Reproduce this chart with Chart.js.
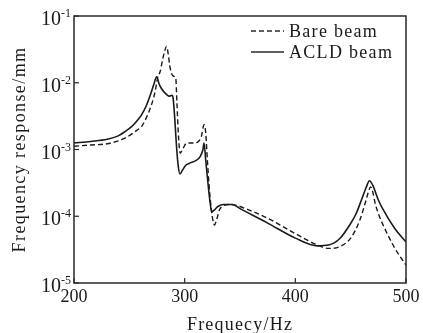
<!DOCTYPE html>
<html>
<head>
<meta charset="utf-8">
<script src="https://cdn.jsdelivr.net/npm/chart.js@4/dist/chart.umd.min.js"></script>
<style>
    body { margin: 0; background: #fff; }
    canvas { display: block; }
</style>
</head>
<body>
<canvas id="frfChart" width="423" height="333"></canvas>
<script>
// Datos
const xTicks = [200, 300, 400, 500];
const yTickExps = [-1, -2, -3, -4, -5];

const bareFreq = [200, 215, 230, 240, 246, 252, 257, 261, 265, 269, 272, 274, 275.6, 278, 280, 282, 283.5, 285, 286.5, 288,
    290, 292, 293, 294.5, 296, 298, 302, 308, 312, 315, 317.5, 319, 320.5, 322, 324, 326, 327, 329, 331.5, 335,
    340, 345, 350, 375, 400, 420, 430, 440, 450, 458, 463, 466, 468, 470, 472, 475, 480, 490, 500];
const bareResp = [1.12e-3, 1.17e-3, 1.22e-3, 1.35e-3, 1.48e-3, 1.7e-3, 1.95e-3, 2.2e-3, 2.9e-3, 4.2e-3, 6e-3, 8.5e-3, 1.2e-2, 1.5e-2, 2.2e-2, 3.0e-2, 3.5e-2, 2.8e-2, 1.8e-2, 1.4e-2,
    1.25e-2, 1.15e-2, 5e-3, 1.5e-3, 8.8e-4, 1.0e-3, 1.25e-3, 1.25e-3, 1.3e-3, 1.55e-3, 2.35e-3, 1.8e-3, 7e-4, 3e-4, 1.3e-4, 8e-5, 7.4e-5, 9e-5, 1.25e-4, 1.45e-4,
    1.5e-4, 1.48e-4, 1.4e-4, 9.3e-5, 5.5e-5, 3.7e-5, 3.3e-5, 3.5e-5, 4.7e-5, 8.5e-5, 1.55e-4, 2.3e-4, 2.75e-4, 2.3e-4, 1.6e-4, 1.1e-4, 7e-5, 3.3e-5, 1.85e-5];

const acldFreq = [200, 215, 230, 240, 246, 252, 257, 261, 265, 269, 272, 274.7, 277, 279, 281, 284, 286, 288.6, 289.5, 291,
    292.5, 294, 295.8, 298, 301, 305, 310, 314, 316.5, 317.5, 319, 321, 323, 324.4, 327, 330, 335, 343, 350, 375,
    400, 420, 430, 440, 450, 455, 460, 464, 467, 470, 475, 480, 490, 500];
const acldResp = [1.25e-3, 1.32e-3, 1.42e-3, 1.6e-3, 1.85e-3, 2.2e-3, 2.7e-3, 3.3e-3, 4.4e-3, 6.6e-3, 9.3e-3, 1.23e-2, 9.5e-3, 8.2e-3, 7.4e-3, 6.6e-3, 6.3e-3, 6.5e-3, 6.0e-3, 3.0e-3,
    1.2e-3, 6e-4, 4.3e-4, 4.9e-4, 5.8e-4, 6.3e-4, 6.8e-4, 7.8e-4, 1.0e-3, 1.25e-3, 7e-4, 3.2e-4, 1.6e-4, 1.17e-4, 1.25e-4, 1.4e-4, 1.5e-4, 1.5e-4, 1.3e-4, 7.9e-5,
    4.7e-5, 3.6e-5, 3.7e-5, 4.6e-5, 7.8e-5, 1.1e-4, 1.8e-4, 2.7e-4, 3.4e-4, 2.9e-4, 1.75e-4, 1.2e-4, 6.5e-5, 4.1e-5];

const seriesNames = ['Bare beam', 'ACLD beam'];
const xTitle = 'Frequecy/Hz';
const yTitle = 'Frequency response/mm';

const ink = '#1a1a1a';
const serif = '"Liberation Serif", "DejaVu Serif", serif';

function toPoints(xs, ys) {
    return xs.map((x, i) => ({ x: x, y: ys[i] }));
}

// Marco, marcas, etiquetas y leyenda
const decoPlugin = {
    id: 'deco',
    afterDraw(chart) {
        const ctx = chart.ctx;
        const a = chart.chartArea;
        const xs = chart.scales.x;
        const ys = chart.scales.y;
        ctx.save();
        ctx.strokeStyle = '#2a2a2a';
        ctx.fillStyle = ink;
        ctx.lineWidth = 1.5;
        ctx.strokeRect(a.left, a.top, a.right - a.left, a.bottom - a.top);

        // marcas hacia adentro
        ctx.lineWidth = 1.2;
        xTicks.forEach(v => {
            const px = xs.getPixelForValue(v);
            ctx.beginPath();
            ctx.moveTo(px, a.bottom);
            ctx.lineTo(px, a.bottom - 5);
            ctx.stroke();
        });
        yTickExps.forEach(e => {
            const py = ys.getPixelForValue(Math.pow(10, e));
            ctx.beginPath();
            ctx.moveTo(a.left, py);
            ctx.lineTo(a.left + 5, py);
            ctx.stroke();
        });

        // etiquetas eje x
        ctx.font = '18px ' + serif;
        ctx.textAlign = 'center';
        ctx.textBaseline = 'alphabetic';
        xTicks.forEach(v => {
            ctx.fillText(String(v), xs.getPixelForValue(v), a.bottom + 19);
        });

        // etiquetas eje y (10 con exponente)
        yTickExps.forEach(e => {
            const py = ys.getPixelForValue(Math.pow(10, e));
            ctx.font = '20px ' + serif;
            ctx.textAlign = 'right';
            ctx.textBaseline = 'alphabetic';
            ctx.fillText('10', a.left - 13, py + 9);
            ctx.font = '12px ' + serif;
            ctx.textAlign = 'left';
            ctx.fillText('-' + Math.abs(e), a.left - 13, py + 1);
        });

        // títulos
        ctx.font = '18px ' + serif;
        ctx.letterSpacing = '1.2px';
        ctx.textAlign = 'center';
        ctx.textBaseline = 'alphabetic';
        ctx.fillText(xTitle, (a.left + a.right) / 2, a.bottom + 47);
        ctx.save();
        ctx.letterSpacing = '1.4px';
        ctx.translate(25, (a.top + a.bottom) / 2);
        ctx.rotate(-Math.PI / 2);
        ctx.fillText(yTitle, 0, 0);
        ctx.restore();

        // leyenda
        ctx.font = '18px ' + serif;
        ctx.letterSpacing = '1.3px';
        ctx.textAlign = 'left';
        ctx.textBaseline = 'alphabetic';
        const lx0 = a.left + 177, lx1 = a.left + 210;
        [31, 52].forEach((ly, i) => {
            ctx.lineWidth = 1.3;
            ctx.setLineDash(i === 0 ? [5, 3] : []);
            ctx.beginPath();
            ctx.moveTo(lx0, ly);
            ctx.lineTo(lx1, ly);
            ctx.stroke();
            ctx.setLineDash([]);
            ctx.fillText(seriesNames[i], lx1 + 5, ly + 6);
        });
        ctx.restore();
    }
};

new Chart(document.getElementById('frfChart'), {
    type: 'line',
    data: {
        datasets: [
            {
                label: seriesNames[0],
                data: toPoints(bareFreq, bareResp),
                borderColor: ink,
                borderWidth: 1.4,
                borderDash: [5, 3],
                pointRadius: 0,
                cubicInterpolationMode: 'monotone'
            },
            {
                label: seriesNames[1],
                data: toPoints(acldFreq, acldResp),
                borderColor: ink,
                borderWidth: 1.6,
                pointRadius: 0,
                cubicInterpolationMode: 'monotone'
            }
        ]
    },
    options: {
        responsive: false,
        animation: false,
        layout: { padding: { left: 74, right: 17, top: 16, bottom: 50 } },
        scales: {
            x: { type: 'linear', min: 200, max: 500, display: false },
            y: { type: 'logarithmic', min: 1e-5, max: 1e-1, display: false }
        },
        plugins: {
            legend: { display: false },
            tooltip: { enabled: false }
        }
    },
    plugins: [decoPlugin]
});
</script>
</body>
</html>
